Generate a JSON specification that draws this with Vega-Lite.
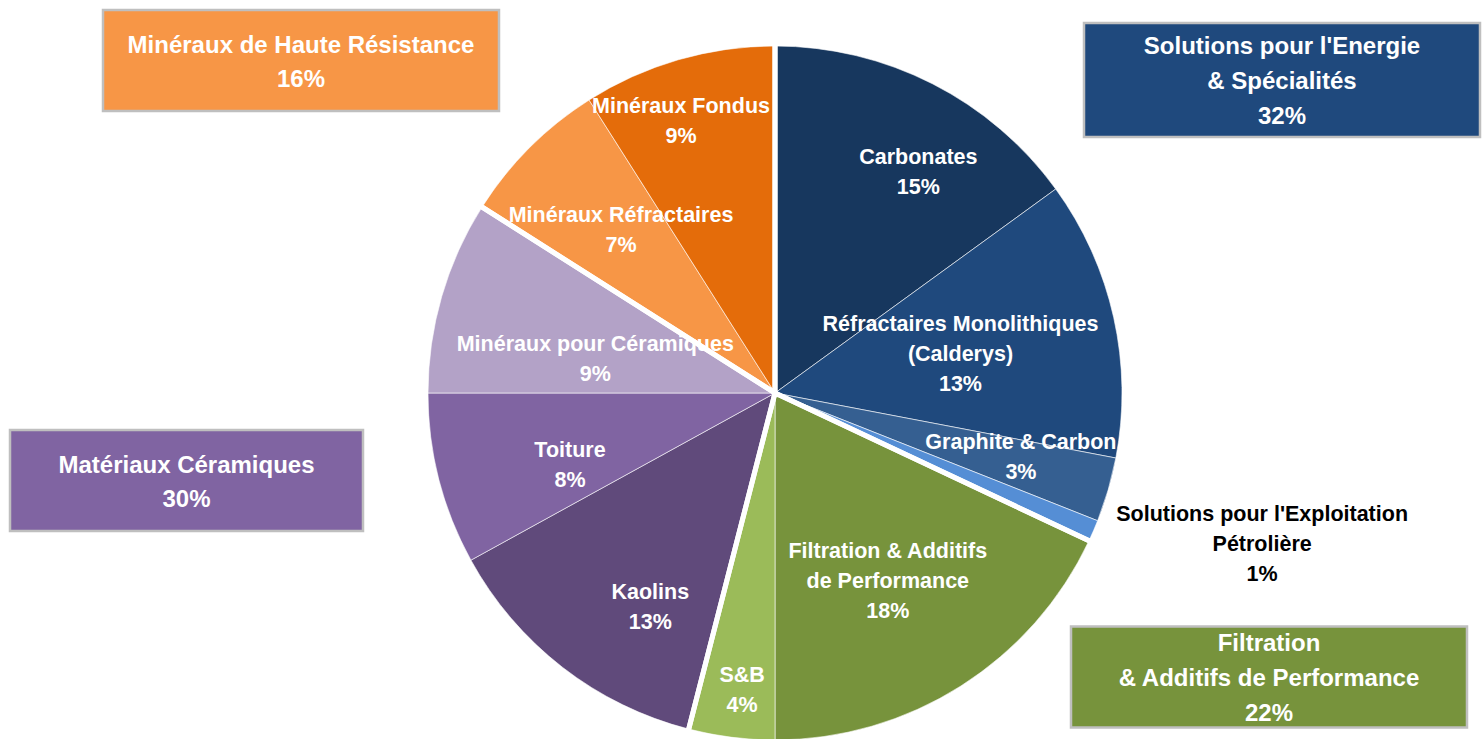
{
  "$schema": "https://vega.github.io/schema/vega-lite/v6.json",
  "width": 1416,
  "height": 692,
  "autosize": {"type": "none"},
  "padding": {"left": 67, "top": 47, "right": 0, "bottom": 0},
  "background": "white",
  "config": {"view": {"stroke": null}, "text": {"font": "Liberation Sans, Arial, sans-serif", "fontWeight": "bold", "align": "center", "baseline": "middle", "lineBreak": "\n"}},
  "datasets": {
    "slices": [
      {"idx": 1, "segment": "Carbonates", "value": 15, "label": "Carbonates\n15%"},
      {"idx": 2, "segment": "Réfractaires Monolithiques (Calderys)", "value": 13, "label": "Réfractaires Monolithiques\n(Calderys)\n13%"},
      {"idx": 3, "segment": "Graphite & Carbon", "value": 3, "label": "Graphite & Carbon\n3%"},
      {"idx": 4, "segment": "Solutions pour l'Exploitation Pétrolière", "value": 1, "label": "Solutions pour l'Exploitation\nPétrolière\n1%"},
      {"idx": 5, "segment": "Filtration & Additifs de Performance", "value": 18, "label": "Filtration & Additifs\nde Performance\n18%"},
      {"idx": 6, "segment": "S&B", "value": 4, "label": "S&B\n4%"},
      {"idx": 7, "segment": "Kaolins", "value": 13, "label": "Kaolins\n13%"},
      {"idx": 8, "segment": "Toiture", "value": 8, "label": "Toiture\n8%"},
      {"idx": 9, "segment": "Minéraux pour Céramiques", "value": 9, "label": "Minéraux pour Céramiques\n9%"},
      {"idx": 10, "segment": "Minéraux Réfractaires", "value": 7, "label": "Minéraux Réfractaires\n7%"},
      {"idx": 11, "segment": "Minéraux Fondus", "value": 9, "label": "Minéraux Fondus\n9%"}
    ],
    "groups": [
      {"gidx": 1, "group": "Solutions pour l'Energie & Spécialités", "share": 32, "label": "Solutions pour l'Energie\n& Spécialités\n32%"},
      {"gidx": 2, "group": "Filtration & Additifs de Performance", "share": 22, "label": "Filtration\n&  Additifs de Performance\n22%"},
      {"gidx": 3, "group": "Matériaux Céramiques", "share": 30, "label": "Matériaux Céramiques\n30%"},
      {"gidx": 4, "group": "Minéraux de Haute Résistance", "share": 16, "label": "Minéraux de Haute Résistance\n16%"}
    ]
  },
  "layer": [
    {
      "data": {"name": "slices"},
      "mark": {"type": "arc", "radius": 347, "stroke": "white", "strokeWidth": 1, "strokeOpacity": 0.6},
      "encoding": {
        "theta": {"field": "value", "type": "quantitative", "stack": true},
        "order": {"field": "idx", "type": "quantitative"},
        "color": {
          "field": "segment", "type": "nominal", "legend": null,
          "scale": {
            "domain": ["Carbonates", "Réfractaires Monolithiques (Calderys)", "Graphite & Carbon", "Solutions pour l'Exploitation Pétrolière", "Filtration & Additifs de Performance", "S&B", "Kaolins", "Toiture", "Minéraux pour Céramiques", "Minéraux Réfractaires", "Minéraux Fondus"],
            "range": ["#17375E", "#1F497D", "#355F91", "#558ED5", "#77933C", "#9BBB59", "#604A7B", "#8064A2", "#B3A2C7", "#F79646", "#E46C0A"]
          }
        }
      }
    },
    {
      "data": {"name": "groups"},
      "mark": {"type": "arc", "radius": 350, "fillOpacity": 0, "fill": "white", "stroke": "white", "strokeWidth": 5, "strokeJoin": "miter"},
      "encoding": {
        "theta": {"field": "share", "type": "quantitative", "stack": true},
        "order": {"field": "gidx", "type": "quantitative"}
      }
    },
    {
      "data": {"name": "slices"},
      "mark": {"type": "text", "radius": 254, "dx": 28, "dy": -9, "fontSize": 21.5, "lineHeight": 30, "fill": "white"},
      "encoding": {
        "theta": {"field": "value", "type": "quantitative", "stack": true},
        "order": {"field": "idx", "type": "quantitative"},
        "text": {"condition": {"test": "datum.segment === 'Carbonates'", "field": "label", "type": "nominal"}, "value": ""}
      }
    },
    {
      "data": {"name": "slices"},
      "mark": {"type": "text", "radius": 188, "dx": 2, "dy": -27, "fontSize": 21.5, "lineHeight": 30, "fill": "white"},
      "encoding": {
        "theta": {"field": "value", "type": "quantitative", "stack": true},
        "order": {"field": "idx", "type": "quantitative"},
        "text": {"condition": {"test": "datum.segment === 'Réfractaires Monolithiques (Calderys)'", "field": "label", "type": "nominal"}, "value": ""}
      }
    },
    {
      "data": {"name": "slices"},
      "mark": {"type": "text", "radius": 254, "dx": 2, "dy": -21, "fontSize": 21.5, "lineHeight": 30, "fill": "white"},
      "encoding": {
        "theta": {"field": "value", "type": "quantitative", "stack": true},
        "order": {"field": "idx", "type": "quantitative"},
        "text": {"condition": {"test": "datum.segment === 'Graphite & Carbon'", "field": "label", "type": "nominal"}, "value": ""}
      }
    },
    {
      "data": {"name": "slices"},
      "mark": {"type": "text", "radius": 509, "dx": 20, "dy": -80, "fontSize": 21.5, "lineHeight": 30, "fill": "black"},
      "encoding": {
        "theta": {"field": "value", "type": "quantitative", "stack": true},
        "order": {"field": "idx", "type": "quantitative"},
        "text": {"condition": {"test": "datum.segment === \"Solutions pour l'Exploitation Pétrolière\"", "field": "label", "type": "nominal"}, "value": ""}
      }
    },
    {
      "data": {"name": "slices"},
      "mark": {"type": "text", "radius": 218, "dx": -4, "dy": -25, "fontSize": 21.5, "lineHeight": 30, "fill": "white"},
      "encoding": {
        "theta": {"field": "value", "type": "quantitative", "stack": true},
        "order": {"field": "idx", "type": "quantitative"},
        "text": {"condition": {"test": "datum.segment === 'Filtration & Additifs de Performance'", "field": "label", "type": "nominal"}, "value": ""}
      }
    },
    {
      "data": {"name": "slices"},
      "mark": {"type": "text", "radius": 294, "dx": 4, "dy": -9, "fontSize": 21.5, "lineHeight": 30, "fill": "white"},
      "encoding": {
        "theta": {"field": "value", "type": "quantitative", "stack": true},
        "order": {"field": "idx", "type": "quantitative"},
        "text": {"condition": {"test": "datum.segment === 'S&B'", "field": "label", "type": "nominal"}, "value": ""}
      }
    },
    {
      "data": {"name": "slices"},
      "mark": {"type": "text", "radius": 254, "dx": 31, "dy": -1, "fontSize": 21.5, "lineHeight": 30, "fill": "white"},
      "encoding": {
        "theta": {"field": "value", "type": "quantitative", "stack": true},
        "order": {"field": "idx", "type": "quantitative"},
        "text": {"condition": {"test": "datum.segment === 'Kaolins'", "field": "label", "type": "nominal"}, "value": ""}
      }
    },
    {
      "data": {"name": "slices"},
      "mark": {"type": "text", "radius": 222, "dx": 10, "dy": 3, "fontSize": 21.5, "lineHeight": 30, "fill": "white"},
      "encoding": {
        "theta": {"field": "value", "type": "quantitative", "stack": true},
        "order": {"field": "idx", "type": "quantitative"},
        "text": {"condition": {"test": "datum.segment === 'Toiture'", "field": "label", "type": "nominal"}, "value": ""}
      }
    },
    {
      "data": {"name": "slices"},
      "mark": {"type": "text", "radius": 184, "dx": -3, "dy": 3, "fontSize": 21.5, "lineHeight": 30, "fill": "white"},
      "encoding": {
        "theta": {"field": "value", "type": "quantitative", "stack": true},
        "order": {"field": "idx", "type": "quantitative"},
        "text": {"condition": {"test": "datum.segment === 'Minéraux pour Céramiques'", "field": "label", "type": "nominal"}, "value": ""}
      }
    },
    {
      "data": {"name": "slices"},
      "mark": {"type": "text", "radius": 222, "dx": 3, "dy": -20, "fontSize": 21.5, "lineHeight": 30, "fill": "white"},
      "encoding": {
        "theta": {"field": "value", "type": "quantitative", "stack": true},
        "order": {"field": "idx", "type": "quantitative"},
        "text": {"condition": {"test": "datum.segment === 'Minéraux Réfractaires'", "field": "label", "type": "nominal"}, "value": ""}
      }
    },
    {
      "data": {"name": "slices"},
      "mark": {"type": "text", "radius": 294, "dx": -12, "dy": -4, "fontSize": 21.5, "lineHeight": 30, "fill": "white"},
      "encoding": {
        "theta": {"field": "value", "type": "quantitative", "stack": true},
        "order": {"field": "idx", "type": "quantitative"},
        "text": {"condition": {"test": "datum.segment === 'Minéraux Fondus'", "field": "label", "type": "nominal"}, "value": ""}
      }
    },
    {
      "data": {"name": "groups"},
      "transform": [{"filter": "datum.gidx === 1"}],
      "mark": {"type": "rect", "width": 396, "height": 114, "stroke": "#BFBFBF", "strokeWidth": 2.5},
      "encoding": {
        "x": {"field": "gidx", "type": "quantitative", "axis": null, "scale": {"domain": [1, 2, 3, 4], "range": [1215, 1202, 119.5, 234], "nice": false, "zero": false}},
        "y": {"field": "gidx", "type": "quantitative", "axis": null, "scale": {"domain": [1, 2, 3, 4], "range": [33, 630, 433.5, 13.5], "nice": false, "zero": false}},
        "fill": {"field": "group", "type": "nominal", "legend": null, "scale": {"domain": ["Solutions pour l'Energie & Spécialités", "Filtration & Additifs de Performance", "Matériaux Céramiques", "Minéraux de Haute Résistance"], "range": ["#1F497D", "#77933C", "#8064A2", "#F79646"]}}
      }
    },
    {
      "data": {"name": "groups"},
      "transform": [{"filter": "datum.gidx === 2 || datum.gidx === 4"}],
      "mark": {"type": "rect", "width": 396, "height": 101, "stroke": "#BFBFBF", "strokeWidth": 2.5},
      "encoding": {
        "x": {"field": "gidx", "type": "quantitative", "axis": null},
        "y": {"field": "gidx", "type": "quantitative", "axis": null},
        "fill": {"field": "group", "type": "nominal", "legend": null}
      }
    },
    {
      "data": {"name": "groups"},
      "transform": [{"filter": "datum.gidx === 3"}],
      "mark": {"type": "rect", "width": 353, "height": 101, "stroke": "#BFBFBF", "strokeWidth": 2.5},
      "encoding": {
        "x": {"field": "gidx", "type": "quantitative", "axis": null},
        "y": {"field": "gidx", "type": "quantitative", "axis": null},
        "fill": {"field": "group", "type": "nominal", "legend": null}
      }
    },
    {
      "data": {"name": "groups"},
      "transform": [{"filter": "datum.gidx <= 2"}],
      "mark": {"type": "text", "fontSize": 24, "lineHeight": 35, "dy": -33, "fill": "white"},
      "encoding": {
        "x": {"field": "gidx", "type": "quantitative", "axis": null},
        "y": {"field": "gidx", "type": "quantitative", "axis": null},
        "text": {"field": "label", "type": "nominal"}
      }
    },
    {
      "data": {"name": "groups"},
      "transform": [{"filter": "datum.gidx >= 3"}],
      "mark": {"type": "text", "fontSize": 24, "lineHeight": 34, "dy": -15, "fill": "white"},
      "encoding": {
        "x": {"field": "gidx", "type": "quantitative", "axis": null},
        "y": {"field": "gidx", "type": "quantitative", "axis": null},
        "text": {"field": "label", "type": "nominal"}
      }
    }
  ]
}
